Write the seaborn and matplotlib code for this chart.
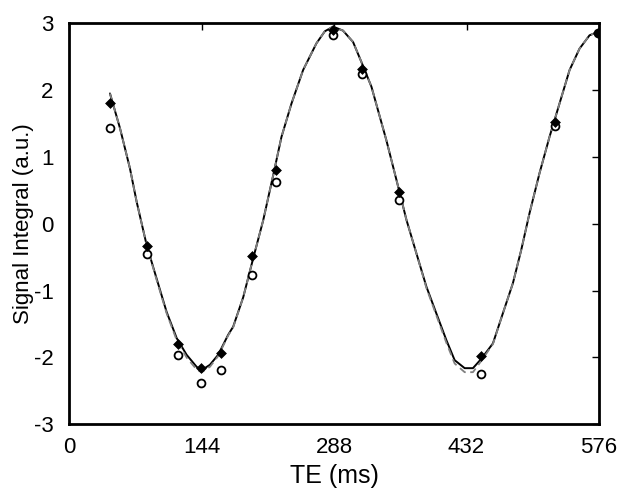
import matplotlib
matplotlib.use("Agg")
import matplotlib.pyplot as plt
import seaborn as sns
import pandas as pd

# Measured echo data (TE in ms)
te_points = [44.5, 84.3, 118.7, 143.3, 164.7, 199.0, 224.8, 287.0, 318.8, 358.7, 448.0, 528.4, 575.0]
signal_filled = [1.81, -0.33, -1.80, -2.16, -1.93, -0.48, 0.80, 2.90, 2.32, 0.48, -1.98, 1.53, 2.86]
signal_open = [1.44, -0.45, -1.96, -2.38, -2.18, -0.76, 0.62, 2.83, 2.24, 0.35, -2.24, 1.46, 2.85]

# Simulated signal curves
te_curve = [44.5, 55.4, 66.2, 73.5, 84.4, 95.2, 106.1, 117.0, 127.8, 138.7, 144.1, 153.1,
            162.1, 173.0, 178.4, 189.3, 200.1, 211.0, 221.8, 230.9, 241.8, 254.4, 268.9,
            278.0, 287.0, 297.8, 308.7, 317.8, 328.7, 344.9, 355.8, 366.7, 377.5, 388.4, 399.2,
            410.1, 419.1, 430.0, 439.0, 448.1, 460.7, 471.5, 482.4, 491.5, 500.5, 511.4,
            522.2, 533.1, 544.0, 554.8, 565.7, 574.7]
sim_solid = [1.95, 1.43, 0.83, 0.33, -0.32, -0.82, -1.32, -1.71, -1.96, -2.14, -2.19, -2.11,
             -1.96, -1.66, -1.54, -1.10, -0.52, 0.05, 0.72, 1.30, 1.80, 2.30, 2.70,
             2.88, 2.95, 2.89, 2.72, 2.42, 2.05, 1.25, 0.66, 0.06, -0.44, -0.94, -1.34,
             -1.74, -2.04, -2.16, -2.16, -2.02, -1.79, -1.34, -0.89, -0.39, 0.16, 0.76,
             1.30, 1.80, 2.30, 2.62, 2.82, 2.87]
sim_dashed = [1.95, 1.43, 0.83, 0.33, -0.32, -0.84, -1.34, -1.74, -2.00, -2.18, -2.22, -2.14,
              -1.98, -1.67, -1.55, -1.10, -0.52, 0.05, 0.72, 1.30, 1.80, 2.30, 2.70,
              2.88, 2.95, 2.89, 2.72, 2.42, 2.05, 1.25, 0.66, 0.06, -0.44, -0.96, -1.37,
              -1.78, -2.09, -2.22, -2.22, -2.05, -1.80, -1.34, -0.89, -0.39, 0.16, 0.76,
              1.30, 1.80, 2.30, 2.62, 2.82, 2.87]

x_ticks = [0, 144, 288, 432, 576]
y_ticks = [-3, -2, -1, 0, 1, 2, 3]

sns.set_theme(style="white")
plt.rcParams["font.family"] = ["Liberation Sans", "DejaVu Sans"]

curve_df = pd.DataFrame({"TE": te_curve, "solid": sim_solid, "dashed": sim_dashed})
pts_df = pd.DataFrame({"TE": te_points, "filled": signal_filled, "open": signal_open})

fig = plt.figure(figsize=(6.19, 4.88), dpi=100)
ax = fig.add_axes([0.1115, 0.1305, 0.8562, 0.8218])

sns.lineplot(data=curve_df, x="TE", y="solid", ax=ax, color="black", lw=1.4,
             sort=False, zorder=2)
sns.lineplot(data=curve_df, x="TE", y="dashed", ax=ax, color="#808080", lw=1.3,
             sort=False, zorder=3, dashes=False, linestyle=(0, (4, 2.5)))
sns.scatterplot(data=pts_df, x="TE", y="open", ax=ax, marker="o", s=32,
                facecolor="white", edgecolor="black", linewidth=1.3, zorder=4)
sns.scatterplot(data=pts_df, x="TE", y="filled", ax=ax, marker="D", s=25,
                color="black", edgecolor="black", linewidth=0.5, zorder=5)

ax.set_xlim(0, 576)
ax.set_ylim(-3, 3)
ax.set_xticks(x_ticks)
ax.set_yticks(y_ticks)
ax.set_xticklabels([str(t) for t in x_ticks])
ax.set_yticklabels([str(t) for t in y_ticks])
ax.tick_params(direction="in", length=5, width=1, top=True, right=True,
               labelsize=16, colors="black")
ax.tick_params(axis="x", pad=9)
ax.tick_params(axis="y", pad=11)
for sp in ax.spines.values():
    sp.set_visible(True)
    sp.set_linewidth(2.0)
    sp.set_color("black")

ax.set_xlabel("TE (ms)", fontsize=18, color="black")
ax.set_ylabel("Signal Integral (a.u.)", fontsize=16, color="black")
ax.xaxis.set_label_coords(0.5, -0.1)
ax.yaxis.set_label_coords(-0.066, 0.5)

fig.savefig("out.png", dpi=100, facecolor="white")
